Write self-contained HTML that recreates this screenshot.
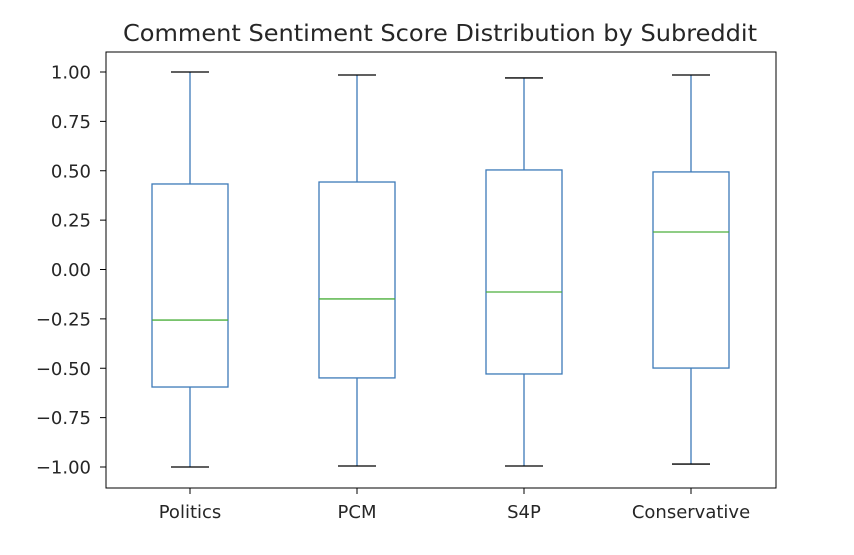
<!DOCTYPE html>
<html><head><meta charset="utf-8"><style>
body{margin:0;background:#fff}
svg text{font-family:"DejaVu Sans","Liberation Sans",sans-serif;fill:#262626}
</style></head><body>
<svg id="chart" width="854" height="550" xmlns="http://www.w3.org/2000/svg">
<text x="440" y="41" font-size="23.5" text-anchor="middle" textLength="634" lengthAdjust="spacingAndGlyphs">Comment Sentiment Score Distribution by Subreddit</text>
<rect x="106" y="52" width="670" height="436" fill="none" stroke="#000" stroke-width="1"/>
<g id="marks"></g>
</svg>
<script>
const categories=["Politics","PCM","S4P","Conservative"];
const whiskerHigh=[1.00,0.985,0.97,0.985];
const q3=[0.433,0.443,0.504,0.494];
const medians=[-0.256,-0.149,-0.114,0.19];
const q1=[-0.595,-0.549,-0.529,-0.499];
const whiskerLow=[-1.00,-0.995,-0.995,-0.985];
const yTicks=[-1.0,-0.75,-0.5,-0.25,0,0.25,0.5,0.75,1.0];
const yTickLabels=["−1.00","−0.75","−0.50","−0.25","0.00","0.25","0.50","0.75","1.00"];

const ns="http://www.w3.org/2000/svg";
const g=document.getElementById('marks');
function y(v){return 269.5-197.5*v;}
function x(i){return 190+167*i;}
function el(t,a){const e=document.createElementNS(ns,t);for(const k in a)e.setAttribute(k,a[k]);g.appendChild(e);return e;}
yTicks.forEach((v,i)=>{
  const t=el('line',{x1:100,x2:106,y1:y(v),y2:y(v),stroke:'#000'});
  
  
  const l=el('text',{x:91,y:y(v)+6.5,'font-size':'18','text-anchor':'end'});
  l.textContent=yTickLabels[i];
  
  
});
const bw=76,cw=38,blue='#3d7ab8';
categories.forEach((c,i)=>{
  const cx=x(i);
  const tk=el('line',{x1:cx,x2:cx,y1:488,y2:494,stroke:'#000'});
  
  
  const lb=el('text',{x:cx,y:518,'font-size':'18','text-anchor':'middle'});
  lb.textContent=c;
  
  
  const w1=el('line',{x1:cx,x2:cx,y1:y(q3[i]),y2:y(whiskerHigh[i]),stroke:blue,'stroke-width':1.3});
  
  
  const w2=el('line',{x1:cx,x2:cx,y1:y(q1[i]),y2:y(whiskerLow[i]),stroke:blue,'stroke-width':1.3});
  
  
  const c1=el('line',{x1:cx-cw/2,x2:cx+cw/2,y1:y(whiskerHigh[i]),y2:y(whiskerHigh[i]),stroke:'#000','stroke-width':1.3});
  
  
  const c2=el('line',{x1:cx-cw/2,x2:cx+cw/2,y1:y(whiskerLow[i]),y2:y(whiskerLow[i]),stroke:'#000','stroke-width':1.3});
  
  
  const b=el('rect',{x:cx-bw/2,y:y(q3[i]),width:bw,height:y(q1[i])-y(q3[i]),fill:'none',stroke:blue,'stroke-width':1.3});
  
  
  const m=el('line',{x1:cx-bw/2,x2:cx+bw/2,y1:y(medians[i]),y2:y(medians[i]),stroke:'#4caf3c','stroke-width':1.3});
  
  
});
</script>
</body></html>
